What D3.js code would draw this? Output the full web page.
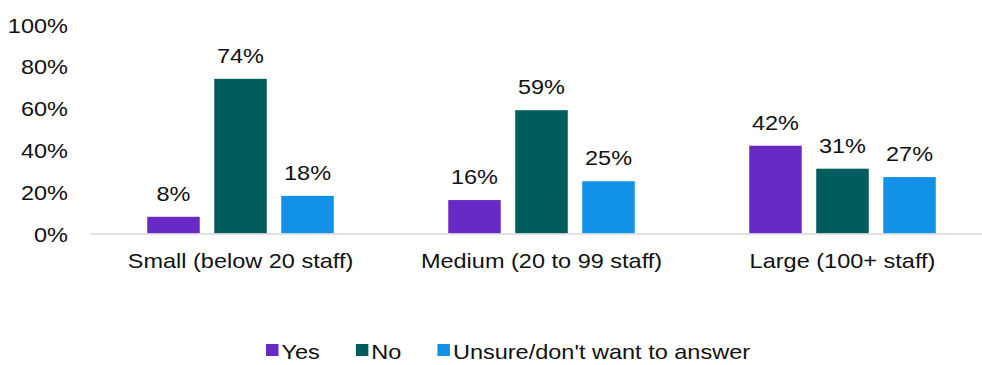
<!DOCTYPE html>
<html>
<head>
<meta charset="utf-8">
<script src="https://cdn.jsdelivr.net/npm/d3@7"></script>
<style>
  html, body { margin: 0; padding: 0; background: #fff; }
  svg { display: block; font-family: "Liberation Sans", Arial, sans-serif; }
</style>
</head>
<body>
<svg id="chart" width="982" height="365"></svg>
<script>
// Share of organisations answering, by organisation size
const categories = ["Small (below 20 staff)", "Medium (20 to 99 staff)", "Large (100+ staff)"];
const seriesNames = ["Yes", "No", "Unsure/don't want to answer"];
const yesValues = [8, 16, 42];
const noValues = [74, 59, 31];
const unsureValues = [18, 25, 27];
const yTicks = [0, 20, 40, 60, 80, 100];

const colors = ["#6929c4", "#005d5d", "#1192e8"];
const seriesValues = [yesValues, noValues, unsureValues];
const textColor = "#111";
const fontSize = 21;
const stretch = 1.12; // horizontal widening of all text

const svg = d3.select("#chart");

const x0 = d3.scaleBand().domain(categories).range([90, 993]).paddingInner(0).paddingOuter(0);
const x1 = d3.scaleBand().domain(seriesNames).range([0, x0.bandwidth()])
  .paddingInner(0.2164).paddingOuter(0.854);
const y = d3.scaleLinear().domain([0, 100]).range([233.5, 24.5]);

function place(sel, fx, fy) {
  sel.attr("x", 0).attr("y", 0)
     .attr("transform", (d, i) => `translate(${fx(d, i)},${fy(d, i)}) scale(${stretch},1)`);
}

// y-axis labels
const yAxis = svg.append("g").attr("transform", "translate(68,0)")
  .call(d3.axisLeft(y).tickValues(yTicks).tickSize(0).tickPadding(0).tickFormat(d => d + "%"));
yAxis.select(".domain").remove();
yAxis.selectAll("text")
  .attr("font-size", fontSize).attr("fill", textColor).attr("font-family", "Liberation Sans, Arial, sans-serif")
  .attr("x", 0).attr("y", 0).attr("dy", "0.36em")
  .attr("transform", `scale(${stretch},1)`);

// bars
const groups = svg.append("g").selectAll("g").data(categories).join("g")
  .attr("transform", d => `translate(${x0(d)},0)`);

groups.each(function (cat, ci) {
  const g = d3.select(this);
  const rows = seriesNames.map((s, si) => ({ s, si, v: seriesValues[si][ci] }));
  g.selectAll("rect").data(rows).join("rect")
    .attr("x", d => x1(d.s))
    .attr("y", d => y(d.v))
    .attr("width", x1.bandwidth())
    .attr("height", d => y(0) - y(d.v))
    .attr("fill", d => colors[d.si]);
  g.selectAll("text").data(rows).join("text")
    .attr("text-anchor", "middle").attr("font-size", fontSize).attr("fill", textColor)
    .text(d => d.v + "%")
    .call(place, d => x1(d.s) + x1.bandwidth() / 2, d => y(d.v) - 16);
});

// baseline
svg.append("line")
  .attr("x1", 90).attr("x2", 982).attr("y1", y(0) + 0.5).attr("y2", y(0) + 0.5)
  .attr("stroke", "#d9d9d9").attr("stroke-width", 1.5);

// category labels
const xAxis = svg.append("g").attr("transform", `translate(0,${y(0)})`)
  .call(d3.axisBottom(x0).tickSize(0).tickPadding(0));
xAxis.select(".domain").remove();
xAxis.selectAll("text")
  .attr("font-size", fontSize).attr("fill", textColor).attr("font-family", "Liberation Sans, Arial, sans-serif")
  .attr("y", 0).attr("dy", 0)
  .attr("transform", `translate(0,34.5) scale(${stretch},1)`);

// legend
const legend = svg.append("g");
let lx = 266;
seriesNames.forEach((name, i) => {
  legend.append("rect").attr("x", lx).attr("y", 344).attr("width", 12.5).attr("height", 12)
    .attr("fill", colors[i]);
  const t = legend.append("text").attr("font-size", fontSize).attr("fill", textColor)
    .attr("x", 0).attr("y", 0)
    .attr("transform", `translate(${lx + 15.5},359) scale(${stretch},1)`)
    .text(name);
  const w = t.node().getComputedTextLength() * stretch;
  lx += 15.5 + w + 36;
});
</script>
</body>
</html>
